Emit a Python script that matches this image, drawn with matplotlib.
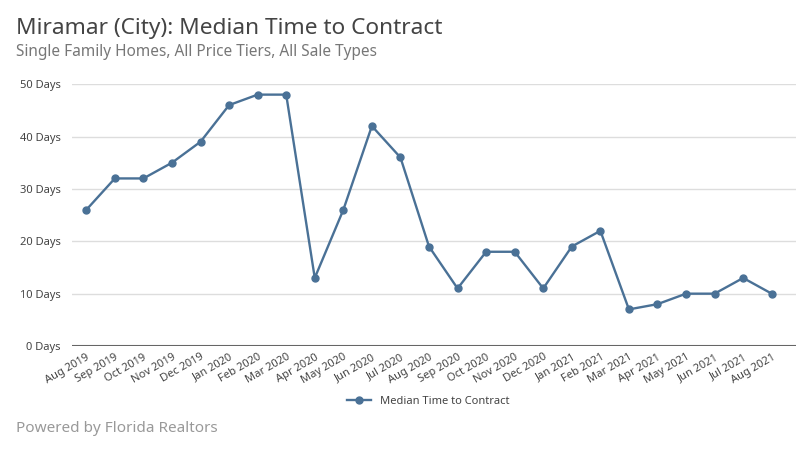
import matplotlib
matplotlib.use("Agg")
from matplotlib import pyplot as plt

months = ['Aug 2019', 'Sep 2019', 'Oct 2019', 'Nov 2019', 'Dec 2019', 'Jan 2020',
          'Feb 2020', 'Mar 2020', 'Apr 2020', 'May 2020', 'Jun 2020', 'Jul 2020',
          'Aug 2020', 'Sep 2020', 'Oct 2020', 'Nov 2020', 'Dec 2020', 'Jan 2021',
          'Feb 2021', 'Mar 2021', 'Apr 2021', 'May 2021', 'Jun 2021', 'Jul 2021',
          'Aug 2021']
days = [26, 32, 32, 35, 39, 46, 48, 48, 13, 26, 42, 36, 19, 11, 18, 18, 11,
        19, 22, 7, 8, 10, 10, 13, 10]
y_ticks = [0, 10, 20, 30, 40, 50]

plt.rcParams['font.family'] = ['Noto Sans', 'DejaVu Sans']

line_color = '#4a7196'
fig = plt.figure(figsize=(8, 4.5), dpi=100)
ax = fig.add_axes([0.09, 0.231, 0.905, 0.582])

x = list(range(len(months)))
ax.plot(x, days, color=line_color, lw=1.7, marker='o', ms=5,
        label='Median Time to Contract')

ax.set_xlim(-0.5, 24.85)
ax.set_ylim(0, 50)
ax.set_yticks(y_ticks)
ax.set_yticklabels([f'{v} Days' for v in y_ticks])
ax.set_xticks(x)
ax.set_xticklabels(months, rotation=30, ha='right', rotation_mode='anchor')
ax.tick_params(axis='both', length=0, labelsize=8, colors='#444444')
ax.tick_params(axis='x', pad=4)
ax.tick_params(axis='y', pad=8)
ax.grid(axis='y', color='#dddddd', lw=1)
ax.axhline(0, color='#666666', lw=1.5, zorder=1)
for s in ax.spines.values():
    s.set_visible(False)
ax.set_axisbelow(True)

fig.text(0.02, 0.925, 'Miramar (City): Median Time to Contract', fontsize=16.3,
         color='#444444', va='baseline')
fig.text(0.02, 0.875, 'Single Family Homes, All Price Tiers, All Sale Types',
         fontsize=11.1, color='#777777', va='baseline')
fig.text(0.02, 0.04, 'Powered by Florida Realtors', fontsize=11,
         color='#999999', va='baseline')

fig.legend(loc='center', bbox_to_anchor=(0.535, 0.107), frameon=False,
           fontsize=8, handlelength=2.2, labelcolor='#444444')

fig.savefig('out.png', dpi=100)
